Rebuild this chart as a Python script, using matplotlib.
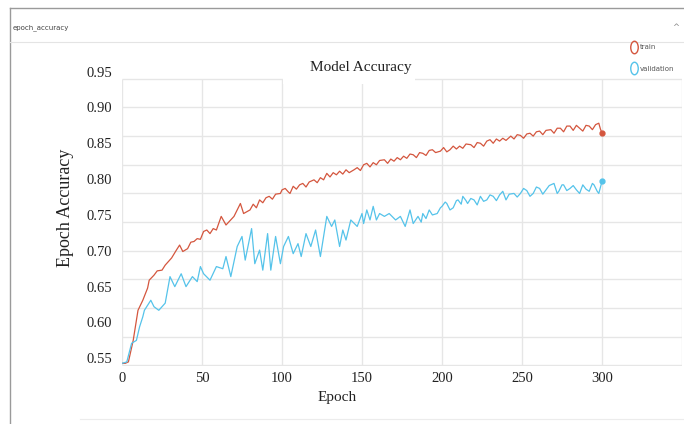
import numpy as np
import matplotlib.pyplot as plt
from matplotlib.lines import Line2D
from matplotlib.patches import Rectangle
from matplotlib.path import Path
from matplotlib.transforms import Affine2D

# training history read per epoch (accuracy)
train_epoch = [0, 2, 4, 7, 10, 13, 16, 17, 20, 22, 25, 27, 29, 31, 34, 36, 38, 41, 43, 45,
               47, 49, 51, 53, 55, 57, 59, 62, 65, 70, 74, 76, 80, 82, 84, 86, 88, 90, 92,
               94, 96, 99, 100, 102, 104, 105, 107, 109, 111, 113, 115, 117, 120, 122, 124,
               126, 128, 130, 132, 134, 136, 138, 140, 142, 145, 147, 149, 151, 153, 155,
               157, 159, 161, 164, 166, 168, 170, 172, 174, 176, 178, 180, 182, 184, 186,
               188, 190, 192, 194, 196, 199, 201, 203, 205, 207, 209, 211, 213, 215, 218,
               220, 222, 224, 226, 228, 230, 232, 234, 236, 238, 240, 243, 245, 247, 249,
               251, 253, 255, 257, 259, 261, 263, 265, 268, 270, 272, 274, 276, 278, 280,
               282, 284, 286, 288, 290, 292, 294, 296, 298, 299, 300]
train_acc = [0.543, 0.543, 0.545, 0.575, 0.617, 0.631, 0.648, 0.659, 0.666, 0.672, 0.673,
             0.680, 0.685, 0.690, 0.701, 0.708, 0.699, 0.703, 0.712, 0.713, 0.717, 0.716,
             0.727, 0.729, 0.724, 0.731, 0.729, 0.748, 0.736, 0.748, 0.766, 0.752, 0.757,
             0.765, 0.760, 0.771, 0.767, 0.774, 0.776, 0.772, 0.779, 0.780, 0.785, 0.787,
             0.782, 0.780, 0.790, 0.786, 0.792, 0.794, 0.789, 0.796, 0.799, 0.795, 0.802,
             0.799, 0.808, 0.803, 0.809, 0.806, 0.811, 0.807, 0.813, 0.809, 0.813, 0.816,
             0.812, 0.820, 0.822, 0.817, 0.823, 0.820, 0.826, 0.827, 0.822, 0.828, 0.825,
             0.830, 0.827, 0.832, 0.829, 0.835, 0.834, 0.830, 0.837, 0.836, 0.833, 0.840,
             0.841, 0.837, 0.839, 0.844, 0.838, 0.841, 0.846, 0.842, 0.846, 0.843, 0.849,
             0.848, 0.844, 0.851, 0.850, 0.846, 0.853, 0.855, 0.850, 0.856, 0.853, 0.857,
             0.854, 0.860, 0.856, 0.862, 0.861, 0.857, 0.863, 0.864, 0.860, 0.866, 0.867,
             0.862, 0.868, 0.869, 0.864, 0.871, 0.871, 0.866, 0.874, 0.874, 0.868, 0.875,
             0.871, 0.867, 0.875, 0.874, 0.869, 0.876, 0.878, 0.870, 0.864]

val_epoch = [0, 3, 6, 9, 11, 13, 14, 18, 20, 23, 27, 30, 33, 37, 40, 44, 47, 49, 51, 55,
             59, 63, 65, 68, 72, 75, 77, 81, 83, 86, 88, 91, 93, 96, 99, 101, 104, 107,
             110, 112, 115, 118, 121, 124, 128, 131, 133, 136, 138, 140, 143, 147, 150,
             151, 153, 155, 157, 159, 161, 164, 167, 171, 174, 177, 180, 182, 185, 187,
             188, 190, 192, 194, 197, 199, 200, 202, 203, 205, 207, 209, 210, 212, 213,
             215, 216, 218, 220, 222, 224, 226, 228, 230, 232, 234, 236, 238, 240, 242,
             245, 247, 249, 251, 253, 255, 257, 259, 261, 263, 265, 267, 270, 272, 273,
             275, 276, 278, 280, 282, 284, 286, 288, 290, 292, 294, 295, 297, 298, 300]
val_acc = [0.543, 0.545, 0.571, 0.575, 0.594, 0.608, 0.617, 0.631, 0.622, 0.617, 0.627,
           0.664, 0.650, 0.668, 0.650, 0.664, 0.657, 0.678, 0.668, 0.659, 0.678, 0.675,
           0.692, 0.664, 0.706, 0.720, 0.687, 0.731, 0.682, 0.701, 0.673, 0.724, 0.673,
           0.720, 0.682, 0.706, 0.720, 0.696, 0.710, 0.692, 0.724, 0.706, 0.729, 0.692,
           0.748, 0.734, 0.743, 0.706, 0.729, 0.715, 0.743, 0.734, 0.752, 0.738, 0.757,
           0.743, 0.762, 0.743, 0.752, 0.748, 0.752, 0.743, 0.748, 0.734, 0.757, 0.738,
           0.748, 0.740, 0.752, 0.745, 0.757, 0.750, 0.752, 0.760, 0.762, 0.768, 0.766,
           0.757, 0.760, 0.770, 0.771, 0.765, 0.776, 0.770, 0.766, 0.773, 0.771, 0.764,
           0.776, 0.769, 0.771, 0.778, 0.776, 0.770, 0.778, 0.783, 0.771, 0.779, 0.780,
           0.775, 0.780, 0.787, 0.784, 0.776, 0.780, 0.789, 0.787, 0.779, 0.785, 0.791,
           0.794, 0.780, 0.783, 0.792, 0.792, 0.784, 0.787, 0.791, 0.785, 0.780, 0.792,
           0.786, 0.783, 0.794, 0.792, 0.783, 0.780, 0.797]

x_ticks = [0, 50, 100, 150, 200, 250, 300]
y_ticks = [0.55, 0.60, 0.65, 0.70, 0.75, 0.80, 0.85, 0.90, 0.95]
grid_x = [0, 50, 100, 150, 200, 250, 300, 350]
grid_y = [0.54, 0.58, 0.62, 0.66, 0.70, 0.74, 0.78, 0.82, 0.86, 0.90, 0.94]

red = '#d4563e'
blue = '#55c3ea'
grid_c = '#e6e6e6'
serif = 'Liberation Serif'

fig = plt.figure(figsize=(6.84, 4.24), dpi=100)
W, H = 684, 424

# card frame around the chart
fig.add_artist(Line2D([10 / W, 1], [1 - 8 / H] * 2, color='#9a9a9a', lw=1))
fig.add_artist(Line2D([10 / W] * 2, [0, 1 - 8 / H], color='#9a9a9a', lw=1))
fig.add_artist(Line2D([10 / W, 1], [1 - 42 / H] * 2, color='#e4e4e4', lw=0.8))
fig.add_artist(Line2D([80 / W, 1], [1 - 419 / H] * 2, color='#ececec', lw=0.8))
fig.text(13 / W, 1 - 28 / H, 'epoch_accuracy', fontsize=5, color='#444444',
         family='DejaVu Sans', va='center', ha='left')
fig.text(676 / W, 1 - 28 / H, '^', fontsize=6, color='#888888', va='center', ha='center')

ax = fig.add_axes([122 / W, 1 - 365.5 / H, 560 / W, 297.5 / H])
ax.set_xlim(0, 350)
ax.set_ylim(0.54, 0.955)

ax.set_xticks(x_ticks)
ax.set_yticks(y_ticks)
ax.set_yticklabels([f'{v:.2f}' for v in y_ticks])
ax.grid(False)
ax.hlines(grid_y, 0, 350, color=grid_c, lw=1, zorder=1)
ax.vlines(grid_x, grid_y[0], grid_y[-1], color=grid_c, lw=1, zorder=1)
ax.tick_params(which='both', length=0)
ax.tick_params(axis='y', pad=7, labelsize=10.5, labelcolor='#222222')
ax.tick_params(axis='x', pad=5, labelsize=10.5, labelcolor='#222222')
for lab in ax.get_xticklabels() + ax.get_yticklabels():
    lab.set_family(serif)
for s in ax.spines.values():
    s.set_visible(False)

ax.plot(train_epoch, train_acc, color=red, lw=0.9, zorder=3)
ax.plot(val_epoch, val_acc, color=blue, lw=0.9, zorder=3)
ax.plot(train_epoch[-1], train_acc[-1], 'o', color=red, ms=3.5, zorder=4)
ax.plot(val_epoch[-1], val_acc[-1], 'o', color=blue, ms=3.5, zorder=4)

ax.set_xlabel('Epoch', family=serif, fontsize=11, color='#222222')
ax.set_ylabel('Epoch Accuracy', family=serif, fontsize=13, color='#222222')
ax.xaxis.set_label_coords((337 - 122) / 560, (365.5 - 397) / 297.5)
ax.yaxis.set_label_coords((65 - 122) / 560, (365.5 - 208) / 297.5)
ax.xaxis.label.set_va('center')
ax.yaxis.label.set_va('center')

# white band behind the title so the top grid line breaks there
fig.add_artist(Rectangle((283 / W, 1 - 84 / H), 132 / W, 30 / H,
                         facecolor='white', edgecolor='none', zorder=5))
fig.text(361 / W, 1 - 67 / H, 'Model Accuracy', family=serif, fontsize=11,
         color='#222222', ha='center', va='center', zorder=6)

oval = Path.unit_circle().transformed(Affine2D().scale(0.6, 1.0))
handles = [Line2D([], [], ls='none', marker=oval, ms=9, mfc='none', mec=red, mew=1),
           Line2D([], [], ls='none', marker=oval, ms=9, mfc='none', mec=blue, mew=1)]
fig.legend(handles, ['train', 'validation'], loc='upper left',
           bbox_to_anchor=(624 / W, 1 - 38 / H), frameon=False, fontsize=5,
           labelspacing=2.2, handletextpad=0.2, handlelength=1.2, labelcolor='#555555')

fig.savefig('out.png', dpi=100)
